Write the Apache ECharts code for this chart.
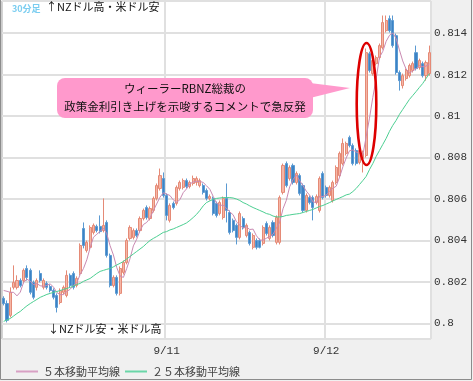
<!DOCTYPE html>
<html>
<head>
<meta charset="utf-8">
<script src="https://cdn.jsdelivr.net/npm/echarts@6/dist/echarts.min.js"></script>
<style>
html,body{margin:0;padding:0;background:#fff;}
#chart{width:473px;height:381px;}
</style>
</head>
<body>
<div id="chart"></div>
<script>
// ---- Data (NZD/USD, 30-minute candles) ----
const opens = [
0.80121,0.80096,0.80039,0.80174,0.80174,0.80207,0.80207,0.80265,0.80256,0.80198,
0.80174,0.80241,0.80174,0.80193,0.80178,0.80159,0.80135,0.80101,0.80150,0.80135,
0.80232,0.80241,0.80183,0.80241,0.80458,0.80352,0.80367,0.80439,0.80468,0.80468,
0.80448,0.80487,0.80328,0.80183,0.80222,0.80145,0.80246,0.80294,0.80410,0.80415,
0.80448,0.80448,0.80506,0.80559,0.80506,0.80545,0.80603,0.80651,0.80699,0.80617,
0.80497,0.80579,0.80579,0.80651,0.80656,0.80689,0.80660,0.80675,0.80680,0.80665,
0.80665,0.80641,0.80603,0.80603,0.80579,0.80530,0.80511,0.80603,0.80535,0.80497,
0.80473,0.80415,0.80506,0.80424,0.80439,0.80367,0.80400,0.80400,0.80386,0.80482,
0.80410,0.80487,0.80391,0.80391,0.80632,0.80771,0.80699,0.80762,0.80680,0.80713,
0.80665,0.80545,0.80607,0.80607,0.80583,0.80545,0.80723,0.80656,0.80617,0.80593,
0.80680,0.80713,0.80771,0.80820,0.80897,0.80858,0.80834,0.80776,0.80796,0.80810,
0.81301,0.81205,0.81253,0.81282,0.81330,0.81412,0.81470,0.81461,0.81388,0.81210,
0.81147,0.81181,0.81195,0.81220,0.81306,0.81234,0.81253,0.81195,0.81205];
const closes = [
0.80096,0.80015,0.80150,0.80198,0.80207,0.80183,0.80256,0.80222,0.80150,0.80126,
0.80207,0.80207,0.80207,0.80174,0.80159,0.80126,0.80077,0.80159,0.80174,0.80232,
0.80183,0.80174,0.80217,0.80376,0.80376,0.80391,0.80463,0.80473,0.80448,0.80443,
0.80473,0.80328,0.80183,0.80222,0.80145,0.80265,0.80294,0.80400,0.80463,0.80448,
0.80424,0.80506,0.80545,0.80511,0.80554,0.80603,0.80665,0.80713,0.80617,0.80521,
0.80569,0.80559,0.80656,0.80680,0.80689,0.80660,0.80680,0.80699,0.80699,0.80689,
0.80632,0.80603,0.80612,0.80530,0.80521,0.80583,0.80603,0.80545,0.80439,0.80448,
0.80415,0.80530,0.80463,0.80473,0.80386,0.80424,0.80367,0.80367,0.80463,0.80434,
0.80463,0.80424,0.80511,0.80607,0.80762,0.80665,0.80752,0.80680,0.80723,0.80627,
0.80545,0.80617,0.80583,0.80559,0.80612,0.80699,0.80607,0.80617,0.80656,0.80680,
0.80752,0.80820,0.80868,0.80868,0.80858,0.80771,0.80771,0.80834,0.80820,0.81306,
0.81220,0.81268,0.81282,0.81340,0.81451,0.81461,0.81412,0.81340,0.81210,0.81171,
0.81195,0.81220,0.81244,0.81253,0.81229,0.81268,0.81195,0.81258,0.81306];
const lows = [
0.80087,0.80005,0.80029,0.80164,0.80164,0.80174,0.80193,0.80207,0.80140,0.80116,
0.80159,0.80198,0.80164,0.80164,0.80150,0.80116,0.80053,0.80092,0.80140,0.80126,
0.80174,0.80164,0.80174,0.80232,0.80362,0.80342,0.80357,0.80429,0.80439,0.80434,
0.80439,0.80318,0.80174,0.80174,0.80135,0.80135,0.80236,0.80285,0.80400,0.80405,
0.80415,0.80439,0.80497,0.80501,0.80497,0.80535,0.80593,0.80641,0.80607,0.80497,
0.80487,0.80550,0.80569,0.80641,0.80646,0.80651,0.80651,0.80665,0.80665,0.80656,
0.80622,0.80593,0.80593,0.80521,0.80511,0.80521,0.80501,0.80487,0.80429,0.80439,
0.80381,0.80405,0.80453,0.80415,0.80376,0.80357,0.80357,0.80362,0.80376,0.80424,
0.80400,0.80415,0.80381,0.80381,0.80622,0.80656,0.80689,0.80670,0.80670,0.80617,
0.80535,0.80535,0.80574,0.80497,0.80574,0.80535,0.80598,0.80607,0.80607,0.80583,
0.80670,0.80704,0.80762,0.80810,0.80849,0.80762,0.80762,0.80767,0.80728,0.80800,
0.81210,0.81195,0.81244,0.81273,0.81321,0.81403,0.81403,0.81330,0.81200,0.81123,
0.81133,0.81171,0.81186,0.81210,0.81220,0.81224,0.81186,0.81171,0.81195];
const highs = [
0.80131,0.80111,0.80174,0.80280,0.80232,0.80217,0.80265,0.80280,0.80265,0.80207,
0.80217,0.80256,0.80217,0.80203,0.80188,0.80169,0.80145,0.80169,0.80183,0.80256,
0.80241,0.80251,0.80227,0.80386,0.80487,0.80400,0.80473,0.80482,0.80477,0.80521,
0.80603,0.80497,0.80337,0.80232,0.80232,0.80275,0.80304,0.80410,0.80473,0.80458,
0.80458,0.80516,0.80554,0.80569,0.80564,0.80612,0.80675,0.80747,0.80728,0.80627,
0.80579,0.80588,0.80665,0.80689,0.80699,0.80699,0.80689,0.80713,0.80709,0.80699,
0.80675,0.80651,0.80622,0.80612,0.80588,0.80593,0.80612,0.80675,0.80545,0.80506,
0.80482,0.80540,0.80516,0.80482,0.80448,0.80434,0.80410,0.80410,0.80473,0.80492,
0.80473,0.80497,0.80521,0.80617,0.80771,0.80781,0.80762,0.80771,0.80733,0.80723,
0.80675,0.80627,0.80617,0.80617,0.80622,0.80709,0.80733,0.80665,0.80665,0.80689,
0.80762,0.80829,0.80892,0.80877,0.80906,0.80868,0.80844,0.80858,0.80834,0.81326,
0.81311,0.81277,0.81292,0.81350,0.81485,0.81485,0.81485,0.81485,0.81398,0.81220,
0.81205,0.81229,0.81253,0.81263,0.81340,0.81277,0.81263,0.81268,0.81340];
// 25-period moving average
const ma25 = [
0.80010,0.80017,0.80024,0.80036,0.80048,0.80058,0.80072,0.80085,0.80096,0.80106,
0.80116,0.80126,0.80133,0.80140,0.80145,0.80150,0.80154,0.80159,0.80164,0.80169,
0.80174,0.80181,0.80188,0.80193,0.80203,0.80210,0.80217,0.80229,0.80241,0.80251,
0.80256,0.80261,0.80265,0.80273,0.80282,0.80290,0.80299,0.80311,0.80323,0.80335,
0.80347,0.80359,0.80371,0.80386,0.80400,0.80410,0.80419,0.80429,0.80439,0.80443,
0.80451,0.80456,0.80463,0.80470,0.80477,0.80485,0.80497,0.80511,0.80526,0.80545,
0.80567,0.80583,0.80591,0.80598,0.80603,0.80605,0.80607,0.80607,0.80607,0.80605,
0.80600,0.80593,0.80583,0.80576,0.80567,0.80559,0.80552,0.80545,0.80538,0.80530,
0.80526,0.80518,0.80514,0.80514,0.80516,0.80521,0.80523,0.80526,0.80528,0.80530,
0.80535,0.80540,0.80545,0.80550,0.80557,0.80564,0.80569,0.80576,0.80583,0.80591,
0.80598,0.80605,0.80612,0.80620,0.80624,0.80636,0.80651,0.80670,0.80689,0.80709,
0.80742,0.80771,0.80805,0.80834,0.80863,0.80892,0.80926,0.80955,0.80979,0.81008,
0.81032,0.81056,0.81080,0.81099,0.81118,0.81138,0.81157,0.81181,0.81205];
// first 4 points of the 5-period MA (earlier candles not shown)
const ma5Head = [0.80159, 0.80155, 0.80150, 0.80150];
const xTickLabels = ['9/11', '9/12'];
const yTickValues = [0.8, 0.802, 0.804, 0.806, 0.808, 0.81, 0.812, 0.814];
const seriesNames = ['５本移動平均線', '２５本移動平均線'];

// 30-minute categories starting 9/9 23:30
const categories = [];
for (let i = 0; i < opens.length; i++) {
  const m = (i - 1) * 30;
  const day = 10 + Math.floor(m / 1440);
  const mm = ((m % 1440) + 1440) % 1440;
  categories.push('9/' + day + ' ' + String(Math.floor(mm / 60)).padStart(2, '0') + ':' + String(mm % 60).padStart(2, '0'));
}
const candleData = opens.map((o, i) => [o, closes[i], lows[i], highs[i]]);
const ma5 = closes.map((c, i) => {
  if (i < 4) return ma5Head[i];
  let s = 0;
  for (let k = i - 4; k <= i; k++) s += closes[k];
  return +(s / 5).toFixed(5);
});
const isDayStart = (idx) => {
  const c = categories[idx];
  return c.endsWith('00:00') && xTickLabels.indexOf(c.split(' ')[0]) >= 0;
};

const chart = echarts.init(document.getElementById('chart'), null, {renderer: 'canvas'});
const cjk = '"Noto Sans CJK JP", "Noto Sans", sans-serif';
chart.setOption({
  animation: false,
  backgroundColor: '#f0f0f0',
  grid: {
    left: 2, right: 42, top: 1, bottom: 42,
    show: true, backgroundColor: '#ffffff', borderColor: '#a8a8a8', borderWidth: 1
  },
  legend: {
    data: seriesNames,
    left: 11, top: 361,
    icon: 'rect', itemWidth: 22, itemHeight: 2, itemGap: 5,
    textStyle: {fontSize: 11, color: '#444', fontFamily: cjk}
  },
  xAxis: {
    type: 'category',
    data: categories,
    boundaryGap: true,
    axisLine: {show: false},
    axisTick: {show: false},
    axisLabel: {
      interval: (idx) => isDayStart(idx),
      formatter: (v) => v.split(' ')[0],
      color: '#333', fontSize: 11, fontFamily: '"Liberation Mono", monospace', margin: 7
    },
    splitLine: {
      show: true,
      interval: (idx) => isDayStart(idx),
      lineStyle: {color: '#e0e0e0', width: 2}
    }
  },
  yAxis: {
    type: 'value',
    position: 'right',
    min: 0.79925, max: 0.81555,
    splitNumber: 8,
    scale: true,
    axisLine: {show: false},
    axisTick: {show: false},
    axisLabel: {
      showMinLabel: false, showMaxLabel: false,
      color: '#333', fontSize: 11, fontFamily: '"Liberation Mono", monospace', margin: 3,
      formatter: (v) => {
        const hit = yTickValues.find(t => Math.abs(t - v) < 1e-7);
        return hit === undefined ? '' : String(hit);
      }
    },
    splitLine: {lineStyle: {color: '#e0e0e0', width: 2}}
  },
  series: [
    {
      name: 'NZD/USD',
      type: 'candlestick',
      data: candleData,
      barWidth: 2.6,
      itemStyle: {
        color: '#f5b6a6', borderColor: '#e58a76',
        color0: '#3c83c5', borderColor0: '#5b9ad2',
        borderWidth: 1
      },
      z: 2
    },
    {
      name: seriesNames[0],
      type: 'line',
      data: ma5,
      showSymbol: false,
      lineStyle: {color: '#c98ab2', width: 1},
      itemStyle: {color: '#d8a0c4'},
      z: 3
    },
    {
      name: seriesNames[1],
      type: 'line',
      data: ma25,
      showSymbol: false,
      lineStyle: {color: '#4ccf92', width: 1},
      itemStyle: {color: '#6ad6a8'},
      z: 3
    }
  ],
  graphic: [
    {type: 'polyline', shape: {points: [[0.5, 0], [0.5, 379.5], [471.5, 379.5], [471.5, 0]]},
     style: {stroke: '#8c8c8c', lineWidth: 1, fill: null}, z: 10},
    {type: 'text', left: 12, top: 4,
     style: {text: '30分足', fill: '#7acdf0', font: 'bold 9px ' + cjk}, z: 10},
    {type: 'text', left: 46, top: 1,
     style: {text: '↑NZドル高・米ドル安', fill: '#111', font: '11px ' + cjk}, z: 10},
    {type: 'text', left: 48, top: 323,
     style: {text: '↓NZドル安・米ドル高', fill: '#111', font: '11px ' + cjk}, z: 10},
    {type: 'polygon', shape: {points: [[310, 83], [350, 88], [310, 98]]},
     style: {fill: '#ff99cc'}, z: 10},
    {type: 'rect', shape: {x: 57, y: 78, width: 256, height: 40, r: 8},
     style: {fill: '#ff99cc'}, z: 10},
    {type: 'text', x: 185, y: 89,
     style: {text: 'ウィーラーRBNZ総裁の', fill: '#111', font: '11.5px ' + cjk, align: 'center', verticalAlign: 'middle'}, z: 11},
    {type: 'text', x: 185, y: 107,
     style: {text: '政策金利引き上げを示唆するコメントで急反発', fill: '#111', font: '11.5px ' + cjk, align: 'center', verticalAlign: 'middle'}, z: 11},
    {type: 'ellipse', shape: {cx: 366.5, cy: 104, rx: 9.8, ry: 61},
     style: {stroke: '#dd0000', lineWidth: 2.6, fill: null}, z: 11}
  ]
});
</script>
</body>
</html>
